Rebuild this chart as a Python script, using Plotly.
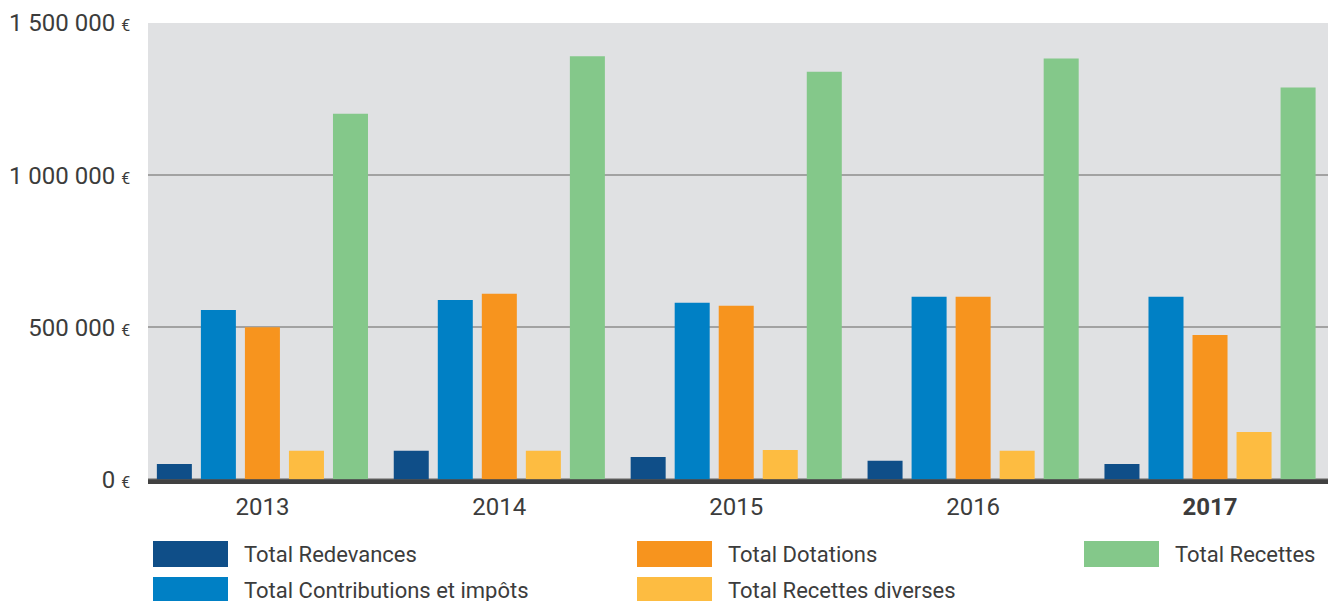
import plotly.graph_objects as go

years = ["2013", "2014", "2015", "2016", "2017"]
year_labels = ["2013", "2014", "2015", "2016", "<b>2017</b>"]

series_names = ["Total Redevances", "Total Contributions et impôts", "Total Dotations",
                "Total Recettes diverses", "Total Recettes"]
redevances = [51000, 94000, 74000, 61000, 51000]
contributions = [557000, 590000, 581000, 600000, 600000]
dotations = [500000, 610000, 571000, 600000, 475000]
diverses = [94000, 94000, 97000, 94000, 156000]
recettes = [1202000, 1391000, 1340000, 1383000, 1288000]
series_values = [redevances, contributions, dotations, diverses, recettes]
colors = ["#0f4e88", "#0080c5", "#f7941e", "#fdbc41", "#84c88a"]

y_tickvals = [0, 500000, 1000000, 1500000]
y_ticktext = ["0 <span style='font-size:16px'>€</span>",
              "500 000 <span style='font-size:16px'>€</span>",
              "1 000 000 <span style='font-size:16px'>€</span>",
              "1 500 000 <span style='font-size:16px'>€</span>"]

W, H = 1328, 601
L, R, T, B = 148, 0, 23, 117
pw, ph = W - L - R, H - T - B
TXT = "#3c3c3c"
FONT = "Roboto"

def px(x):
    return (x - L) / pw

def py(y):
    return (H - B - y) / ph

fig = go.Figure()
for name, vals, c in zip(series_names, series_values, colors):
    fig.add_trace(go.Bar(x=years, y=vals, name=name, marker_color=c,
                         marker_line_width=0, showlegend=False))

shapes = [dict(type="rect", xref="paper", yref="y", x0=0, x1=1, y0=-15000, y1=300,
               fillcolor="#414141", line_width=0, layer="above")]
annotations = []
legend_pos = [(153, 541), (153, 577), (637, 541), (637, 577), (1084, 541)]
for (x0, y0), name, c in zip(legend_pos, series_names, colors):
    shapes.append(dict(type="rect", xref="paper", yref="paper",
                       x0=px(x0), x1=px(x0 + 75), y0=py(y0), y1=py(y0 + 26),
                       fillcolor=c, line_width=0))
    annotations.append(dict(xref="paper", yref="paper", x=px(x0 + 89), y=py(y0 + 13),
                            text=name, showarrow=False, xanchor="left", yanchor="middle",
                            font=dict(family=FONT, size=22, color=TXT)))

fig.update_layout(
    width=W, height=H,
    margin=dict(l=L, r=R, t=T, b=B, pad=0),
    paper_bgcolor="white", plot_bgcolor="#e0e1e3",
    barmode="group", bargap=0.0707, bargroupgap=0.205,
    font=dict(family=FONT, color=TXT),
    shapes=shapes, annotations=annotations,
    xaxis=dict(type="category", range=[-0.483, 4.498], tickvals=years, ticktext=year_labels,
               tickfont=dict(size=24, color=TXT), ticks="outside", ticklen=1,
               tickcolor="rgba(0,0,0,0)", showgrid=False, zeroline=False, showline=False,
               fixedrange=True),
    yaxis=dict(range=[-15000, 1500000], tickvals=y_tickvals, ticktext=y_ticktext,
               tickfont=dict(size=24, color=TXT), ticks="outside", ticklen=12,
               tickcolor="rgba(0,0,0,0)", showgrid=True, gridcolor="#a2a2a2", gridwidth=1.5,
               zeroline=False, showline=False, fixedrange=True),
)
fig.write_html("out.html", config={"displayModeBar": False},
               post_script="document.body.style.margin='0';document.body.style.overflow='hidden';")
